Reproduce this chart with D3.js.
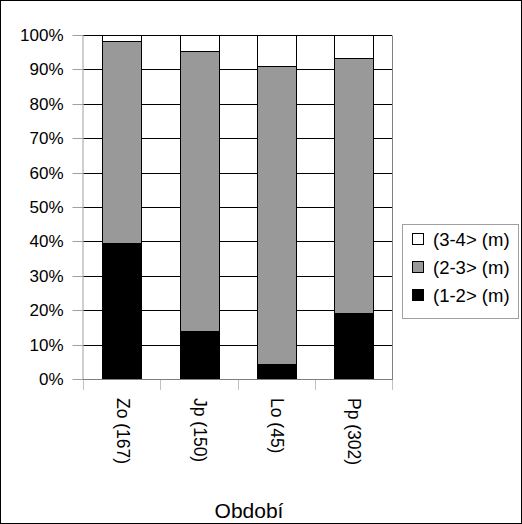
<!DOCTYPE html>
<html>
<head>
<meta charset="utf-8">
<script src="https://cdn.jsdelivr.net/npm/d3@7"></script>
<style>
  html, body { margin: 0; padding: 0; background: #fff; }
  svg { display: block; font-family: "Liberation Sans", Arial, sans-serif; }
</style>
</head>
<body>
<svg id="chart" width="522" height="524"></svg>
<script>
// Categories (period with sample size) and stacked shares in percent
const categories = ["Zo (167)", "Jp (150)", "Lo (45)", "Pp (302)"];
const seriesNames = ["(1-2> (m)", "(2-3> (m)", "(3-4> (m)"];
const series12 = [39.5, 14.0, 4.4, 19.2];
const series23 = [58.7, 81.3, 86.7, 74.2];
const series34 = [1.8, 4.7, 8.9, 6.6];
const yTicks = [0, 10, 20, 30, 40, 50, 60, 70, 80, 90, 100];
const xTitle = "Období";

const colors = { "(1-2> (m)": "#000000", "(2-3> (m)": "#999999", "(3-4> (m)": "#ffffff" };

const rows = categories.map((c, i) => ({
  cat: c,
  "(1-2> (m)": series12[i],
  "(2-3> (m)": series23[i],
  "(3-4> (m)": series34[i]
}));

const svg = d3.select("#chart");
const W = 522, H = 524;
const plot = { left: 83, right: 392, top: 35, bottom: 379 };

// outer frame
svg.append("rect").attr("x", 0.5).attr("y", 0.5).attr("width", W - 1).attr("height", H - 1)
  .attr("fill", "#fff").attr("stroke", "#000");

const x = d3.scaleBand().domain(categories).range([plot.left, plot.right])
  .paddingInner(0.5).paddingOuter(0.25);
const y = d3.scaleLinear().domain([0, 100]).range([plot.bottom, plot.top]);

const crisp = v => Math.round(v) + 0.5;

// gridlines
svg.append("g").selectAll("line").data(yTicks.filter(t => t > 0)).join("line")
  .attr("x1", plot.left).attr("x2", plot.right)
  .attr("y1", d => crisp(y(d))).attr("y2", d => crisp(y(d)))
  .attr("stroke", "#000").attr("stroke-width", 1);

// plot border (right side)
svg.append("line").attr("x1", crisp(plot.right)).attr("x2", crisp(plot.right))
  .attr("y1", crisp(plot.top)).attr("y2", crisp(plot.bottom))
  .attr("stroke", "#808080");

// stacked bars
const stack = d3.stack().keys(seriesNames)(rows);
svg.append("g").selectAll("g").data(stack).join("g")
  .attr("fill", d => colors[d.key])
  .selectAll("rect").data(d => d).join("rect")
  .attr("x", d => crisp(x(d.data.cat)))
  .attr("y", d => crisp(y(d[1])))
  .attr("width", Math.round(x.bandwidth()))
  .attr("height", d => Math.round(y(d[0])) - Math.round(y(d[1])))
  .attr("stroke", "#000").attr("stroke-width", 1);

// y axis
const yAxis = d3.axisLeft(y).tickValues(yTicks).tickFormat(d => d + "%").tickSize(11).tickPadding(9);
const gy = svg.append("g").attr("transform", `translate(${crisp(plot.left)},0.5)`).call(yAxis);
gy.select(".domain").attr("stroke", "#a0a0a0").attr("d", `M-0.5,${Math.round(plot.top)}V${Math.round(plot.bottom)}`);
gy.selectAll(".tick line").attr("stroke", "#a0a0a0");
gy.selectAll(".tick").attr("transform", d => `translate(0,${Math.round(y(d))})`);
gy.selectAll("text").attr("font-size", 17).attr("fill", "#000")
  .attr("font-family", "Liberation Sans, Arial, sans-serif");

// x axis baseline and ticks at category boundaries
const step = x.step();
const bounds = d3.range(categories.length + 1).map(i => plot.left + i * step);
svg.append("line").attr("x1", plot.left).attr("x2", plot.right + 1)
  .attr("y1", crisp(plot.bottom)).attr("y2", crisp(plot.bottom)).attr("stroke", "#808080");
svg.append("g").selectAll("line").data(bounds).join("line")
  .attr("x1", d => crisp(d)).attr("x2", d => crisp(d))
  .attr("y1", plot.bottom + 1).attr("y2", plot.bottom + 11)
  .attr("stroke", "#c0c0c0");

// category labels, rotated
svg.append("g").selectAll("text").data(categories).join("text")
  .attr("transform", d => `translate(${x(d) + x.bandwidth() / 2 - 5},398) rotate(90)`)
  .attr("text-anchor", "start").attr("font-size", 17.5).attr("fill", "#000")
  .text(d => d);

// axis title
svg.append("text").attr("x", 249).attr("y", 518).attr("text-anchor", "middle")
  .attr("font-size", 21).attr("fill", "#000").text(xTitle);

// legend
const lg = svg.append("g");
lg.append("rect").attr("x", 402.5).attr("y", 224.5).attr("width", 116).attr("height", 94)
  .attr("fill", "#fff").attr("stroke", "#a0a0a0");
const legendOrder = seriesNames.slice().reverse();
const li = lg.selectAll("g").data(legendOrder).join("g")
  .attr("transform", (d, i) => `translate(0,${Math.round(239 + i * 28)})`);
li.append("rect").attr("x", 412.5).attr("y", -5.5).attr("width", 11).attr("height", 11)
  .attr("fill", d => colors[d]).attr("stroke", "#000");
li.append("text").attr("x", 433).attr("y", 6.5).attr("font-size", 18.5).attr("fill", "#000")
  .text(d => d);
</script>
</body>
</html>
